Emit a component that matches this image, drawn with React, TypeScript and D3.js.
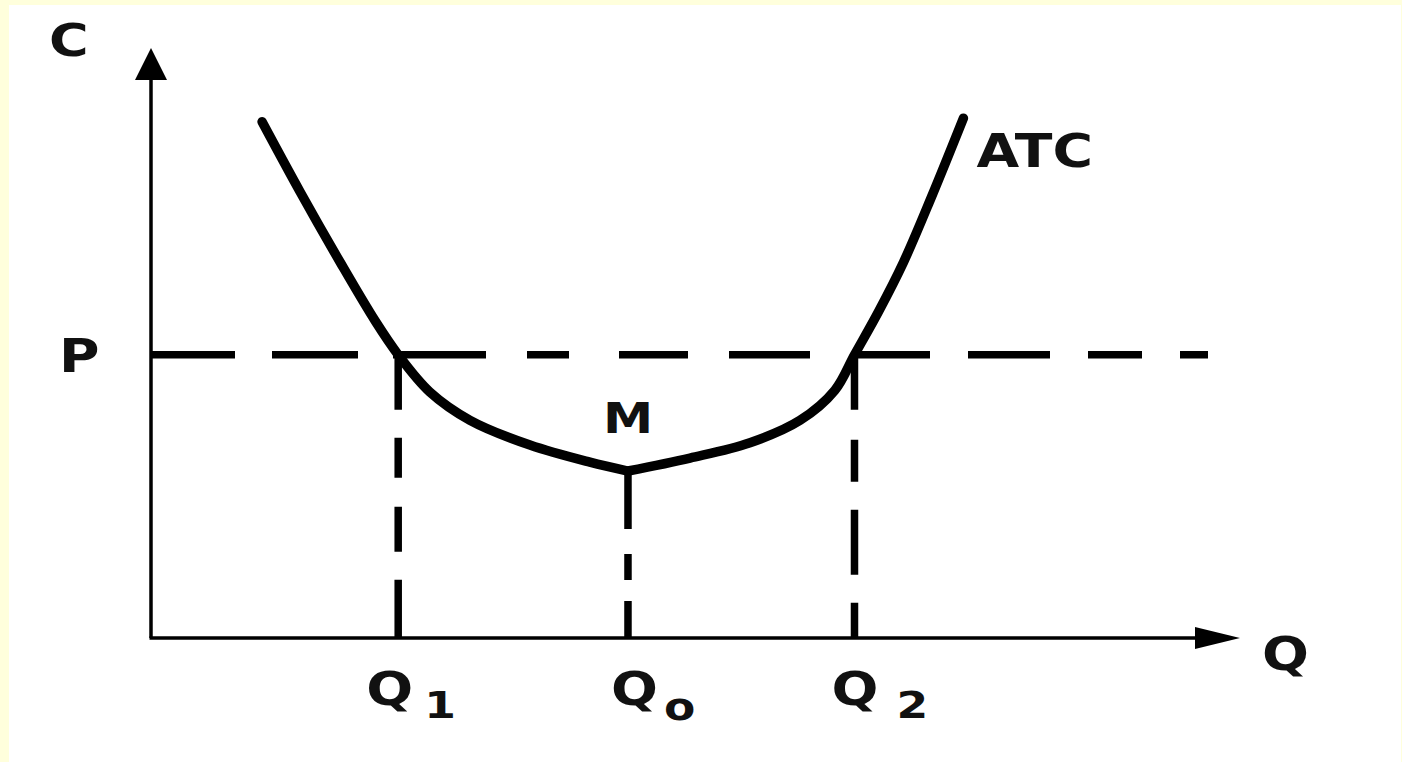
import React, { useEffect, useRef } from "react";
import * as d3 from "d3";

// ATC curve (Q, C in arbitrary units 0..10)
const atcLeft: [number, number][] = [
  [1.02, 8.75], [1.37, 7.56], [1.74, 6.36], [2.06, 5.37], [2.27, 4.8],
  [2.56, 4.17], [2.93, 3.69], [3.48, 3.27], [4.03, 2.98], [4.38, 2.83],
];
const atcRight: [number, number][] = [
  [4.38, 2.83], [4.95, 3.05], [5.5, 3.31], [5.96, 3.69], [6.28, 4.2],
  [6.46, 4.8], [6.68, 5.53], [6.91, 6.37], [7.17, 7.49], [7.46, 8.81],
];

const qNames = ["Q", "Q", "Q"];
const qSubs = ["1", "o", "2"];
const qValues = [2.27, 4.38, 6.46];
const qFrom = [4.8, 2.83, 4.8]; // where each dashed drop line starts
const priceP = 4.8;
const priceEnd = 9.81;
const minM: [number, number] = [4.38, 2.83];

const W = 1402;
const H = 762;
const FONT = "'DejaVu Sans', Verdana, sans-serif";
const STRETCH = 1.2; // the original glyphs are widened

export default function App() {
  const ref = useRef<SVGSVGElement>(null);

  useEffect(() => {
    document.body.style.margin = "0";
    const node = ref.current;
    if (!node) return;
    const svg = d3.select(node);
    svg.selectAll("*").remove();

    const x = d3.scaleLinear().domain([0, 10]).range([151, 1240]);
    const y = d3.scaleLinear().domain([0, 10]).range([638, 48]);

    // background: pale yellow frame with white sheet
    svg.append("rect").attr("width", W).attr("height", H).attr("fill", "#ffffdc");
    svg.append("rect").attr("x", 9).attr("y", 5).attr("width", W - 10).attr("height", H - 5).attr("fill", "#ffffff");

    const g = svg.append("g");

    // axes
    g.append("line")
      .attr("x1", x(0)).attr("y1", y(0)).attr("x2", x(0)).attr("y2", y(10) + 30)
      .attr("stroke", "#000").attr("stroke-width", 3.5);
    g.append("polygon")
      .attr("points", [[x(0), y(10)], [x(0) - 16, y(10) + 32], [x(0) + 16, y(10) + 32]].map(p => p.join(",")).join(" "))
      .attr("fill", "#000");
    g.append("line")
      .attr("x1", x(0) - 1.5).attr("y1", y(0)).attr("x2", x(10) - 42).attr("y2", y(0))
      .attr("stroke", "#000").attr("stroke-width", 3.5);
    g.append("polygon")
      .attr("points", [[x(10), y(0)], [x(10) - 45, y(0) - 11], [x(10) - 45, y(0) + 11]].map(p => p.join(",")).join(" "))
      .attr("fill", "#000");

    // dashed price line
    g.append("line")
      .attr("x1", x(0)).attr("y1", y(priceP)).attr("x2", x(priceEnd)).attr("y2", y(priceP))
      .attr("stroke", "#000").attr("stroke-width", 7.5)
      .attr("stroke-dasharray", "84,37,86,35,93,41,42,50,69,41,81,44,76,38,82,38,54,38,28,300");

    // dashed drop lines
    const dropDash = ["55,28,40,29,45,28,60", "58,25,26,21,40", "55,30,42,28,65,28,40"];
    qValues.forEach((q, i) => {
      g.append("line")
        .attr("x1", x(q)).attr("y1", y(qFrom[i])).attr("x2", x(q)).attr("y2", y(0))
        .attr("stroke", "#000").attr("stroke-width", 7.5)
        .attr("stroke-dasharray", dropDash[i]);
    });

    // ATC curve: two branches meeting at the kink M
    const line = d3.line<[number, number]>()
      .x(d => x(d[0]))
      .y(d => y(d[1]))
      .curve(d3.curveCatmullRom.alpha(0.5));
    [atcLeft, atcRight].forEach(branch => {
      g.append("path")
        .attr("d", line(branch))
        .attr("fill", "none")
        .attr("stroke", "#000")
        .attr("stroke-width", 9.5)
        .attr("stroke-linejoin", "round")
        .attr("stroke-linecap", "round");
    });

    // labels
    const label = (tx: number, ty: number, txt: string, size: number, anchor = "start") =>
      g.append("text")
        .attr("transform", `translate(${tx},${ty}) scale(${STRETCH},1)`)
        .attr("text-anchor", anchor)
        .attr("font-family", FONT)
        .attr("font-weight", "bold")
        .attr("font-size", size)
        .attr("fill", "#111")
        .text(txt);

    label(x(0) - 102, y(10) + 8, "C", 45);
    label(x(0) - 92, y(priceP) + 17, "P", 46);
    label(x(atcRight[atcRight.length - 1][0]) + 13, 167, "ATC", 46);
    label(x(minM[0]), y(minM[1]) - 38, "M", 42, "middle");
    label(x(10) + 22, y(0) + 32, "Q", 46);

    const qOffsets = [-32, -17, -23];
    const subOffsets = [26, 36, 42];
    const subBase = [718, 720, 718];
    qValues.forEach((q, i) => {
      label(x(q) + qOffsets[i], 705, qNames[i], 46);
      label(x(q) + subOffsets[i], subBase[i], qSubs[i], 38);
    });
  }, []);

  return <svg ref={ref} width={W} height={H} style={{ display: "block" }} />;
}
